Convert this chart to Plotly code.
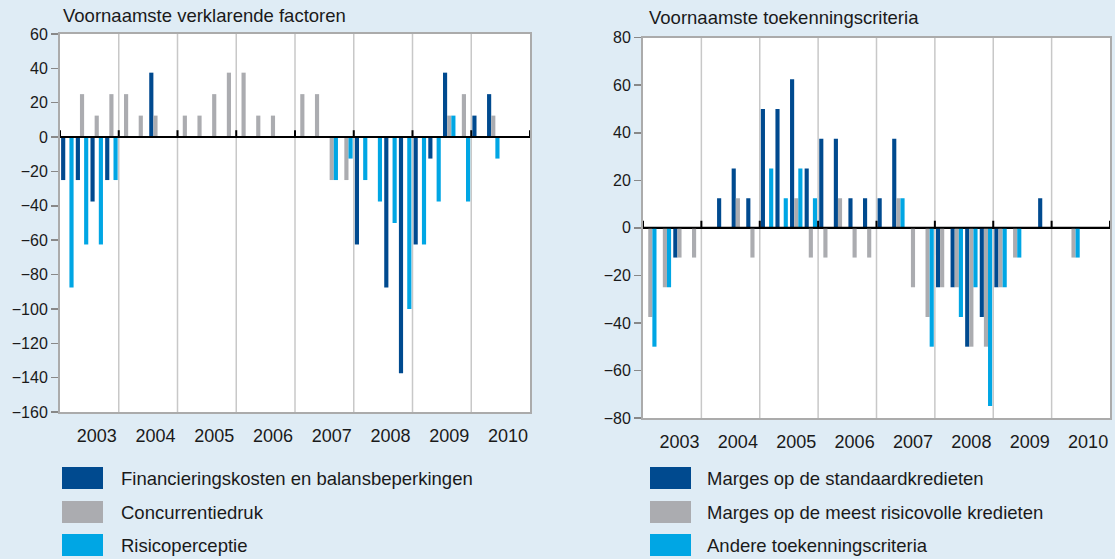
import plotly.graph_objects as go

W, H = 1115, 559

years = ["2003", "2004", "2005", "2006", "2007", "2008", "2009", "2010"]
quarters = [f"{y}Q{q}" for y in years for q in range(1, 5)]

# Left panel: Voornaamste verklarende factoren (2003Q1 .. 2010Q2)
left_names = ["Financieringskosten en balansbeperkingen", "Concurrentiedruk", "Risicoperceptie"]
fin_costs = [-25, -25, -37.5, -25,
             0, 0, 37.5, 0,
             0, 0, 0, 0,
             0, 0, 0, 0,
             0, 0, 0, 0,
             -62.5, 0, -87.5, -137.5,
             -62.5, -12.5, 37.5, 0,
             12.5, 25, None, None]
competition = [0, 25, 12.5, 25,
               25, 12.5, 12.5, 0,
               12.5, 12.5, 25, 37.5,
               37.5, 12.5, 12.5, 0,
               25, 25, -25, -25,
               0, 0, 0, 0,
               0, 0, 12.5, 25,
               0, 12.5, None, None]
risk_perception = [-87.5, -62.5, -62.5, -25,
                   0, 0, 0, 0,
                   0, 0, 0, 0,
                   0, 0, 0, 0,
                   0, 0, -25, -12.5,
                   -25, -37.5, -50, -100,
                   -62.5, -37.5, 12.5, -37.5,
                   0, -12.5, None, None]

# Right panel: Voornaamste toekenningscriteria
right_names = ["Marges op de standaardkredieten", "Marges op de meest risicovolle kredieten",
               "Andere toekenningscriteria"]
margins_std = [0, 0, -12.5, 0,
               0, 12.5, 25, 12.5,
               50, 50, 62.5, 25,
               37.5, 37.5, 12.5, 12.5,
               12.5, 37.5, 0, 0,
               -25, -25, -50, -37.5,
               -25, 0, 0, 12.5,
               0, 0, None, None]
margins_risky = [-37.5, -25, -12.5, -12.5,
                 0, 0, 12.5, -12.5,
                 0, 0, 12.5, -12.5,
                 -12.5, 12.5, -12.5, -12.5,
                 0, 12.5, -25, -37.5,
                 -25, -25, -50, -50,
                 -25, -12.5, 0, 0,
                 0, -12.5, None, None]
other_criteria = [-50, -25, 0, 0,
                  0, 0, 0, 0,
                  25, 12.5, 25, 12.5,
                  0, 0, 0, 0,
                  0, 12.5, 0, -50,
                  0, -37.5, -25, -75,
                  -25, -12.5, 0, 0,
                  0, -12.5, None, None]

left_ticks = [-160, -140, -120, -100, -80, -60, -40, -20, 0, 20, 40, 60]
right_ticks = [-80, -60, -40, -20, 0, 20, 40, 60, 80]

colors = ["#004A8F", "#ABACB0", "#00A6E4"]
BG = "#DFECF5"
FONT = "Liberation Sans, Arial, sans-serif"
TXT = "#1a1a1a"

xs = list(range(len(quarters)))

fig = go.Figure()
for vals, name, c in zip([fin_costs, competition, risk_perception], left_names, colors):
    fig.add_trace(go.Bar(x=xs, y=vals, name=name, marker=dict(color=c, line=dict(width=0)),
                         xaxis="x", yaxis="y", showlegend=False))
for vals, name, c in zip([margins_std, margins_risky, other_criteria], right_names, colors):
    fig.add_trace(go.Bar(x=xs, y=vals, name=name, marker=dict(color=c, line=dict(width=0)),
                         xaxis="x2", yaxis="y2", showlegend=False))

def px(x):
    return x / W

def py(y):
    return 1 - y / H

year_pos = [4 * i + 2.0 for i in range(len(years))]
bounds = [4 * i - 0.5 for i in range(len(years) + 1)]

xcommon = dict(range=[-0.5, len(quarters) - 0.5], tickmode="array", tickvals=year_pos, ticktext=years,
               showgrid=False, zeroline=False, showline=True, mirror=True, linecolor="#ABABAB",
               linewidth=2, ticks="", ticklabelstandoff=6,
               tickfont=dict(size=18, color=TXT, family=FONT), automargin=False,
               fixedrange=True)
ycommon = dict(showgrid=False, zeroline=True, zerolinecolor="#000000", zerolinewidth=2,
               showline=True, mirror=True, linecolor="#ABABAB", linewidth=2,
               ticks="outside", ticklen=7, tickwidth=1.5, tickcolor="#888888",
               tickfont=dict(size=16, color=TXT, family=FONT), automargin=False, tickmode="array",
               fixedrange=True)

fig.update_layout(
    width=W, height=H,
    margin=dict(l=0, r=0, t=0, b=0),
    paper_bgcolor=BG, plot_bgcolor="white",
    barmode="group", bargap=0.15, bargroupgap=0,
    font=dict(family=FONT, color=TXT),
    hovermode=False,
    xaxis=dict(domain=[px(60), px(530)], anchor="y", **xcommon),
    yaxis=dict(domain=[py(412), py(34)], anchor="x", range=[-160, 60], tickvals=left_ticks, **ycommon),
    xaxis2=dict(domain=[px(643), px(1110)], anchor="y2", **xcommon),
    yaxis2=dict(domain=[py(418), py(37.7)], anchor="x2", range=[-80, 80], tickvals=right_ticks, **ycommon),
)

shapes = []
# year separator gridlines and small ticks on zero line
for xa, ya, tick_h in [("x", "y", 4), ("x2", "y2", 3)]:
    for b in bounds[1:-1]:
        shapes.append(dict(type="line", xref=xa, yref=f"{ya} domain", x0=b, x1=b, y0=0, y1=1,
                           line=dict(color="#C8C8C8", width=1.5), layer="below"))
    for b in bounds:
        shapes.append(dict(type="line", xref=xa, yref=ya, x0=b, x1=b, y0=0, y1=tick_h,
                           line=dict(color="#000000", width=2), layer="above"))
    shapes.append(dict(type="line", xref=f"{xa} domain", yref=ya, x0=0, x1=1, y0=0, y1=0,
                       line=dict(color="#000000", width=2), layer="above"))

annotations = [
    dict(text="Voornaamste verklarende factoren", x=px(61), y=py(16), xref="paper", yref="paper",
         xanchor="left", yanchor="middle", showarrow=False, font=dict(size=18.5, color=TXT, family=FONT)),
    dict(text="Voornaamste toekenningscriteria", x=px(647), y=py(18), xref="paper", yref="paper",
         xanchor="left", yanchor="middle", showarrow=False, font=dict(size=18.5, color=TXT, family=FONT)),
]

# manual legends
legend_rows = [478, 512, 545]
for names, sq_x0, txt_x in [(left_names, 62, 119), (right_names, 650, 705)]:
    for name, c, yc in zip(names, colors, legend_rows):
        shapes.append(dict(type="rect", xref="paper", yref="paper", x0=px(sq_x0), x1=px(sq_x0 + 41),
                           y0=py(yc + 11), y1=py(yc - 11), fillcolor=c, line=dict(width=0)))
        annotations.append(dict(text=name, x=px(txt_x), y=py(yc), xref="paper", yref="paper",
                                xanchor="left", yanchor="middle", showarrow=False,
                                font=dict(size=18.5, color=TXT, family=FONT)))

fig.update_layout(shapes=shapes, annotations=annotations)
fig.write_html("out.html", config={"displayModeBar": False, "staticPlot": True},
               post_script="document.body.style.margin='0px';document.body.style.overflow='hidden';"
                           "document.body.style.background='" + BG + "';")
